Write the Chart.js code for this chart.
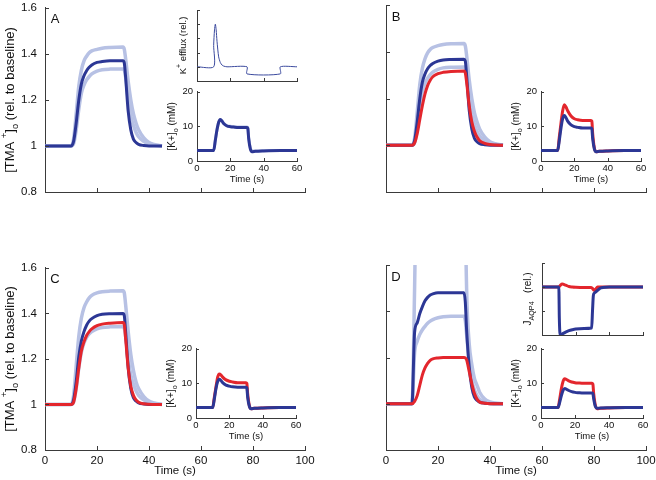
<!DOCTYPE html>
<html>
<head>
<meta charset="utf-8">
<script src="https://cdn.jsdelivr.net/npm/chart.js@4.4.0/dist/chart.umd.min.js"></script>
<style>
    body { margin: 0; background: #fff; width: 656px; height: 480px; overflow: hidden; position: relative; }
    canvas { position: absolute; }
</style>
</head>
<body>
<script>
// ---- main panels: [TMA+]o relative to baseline, time in s
const tMain = [0, 10, 11, 12, 13, 14, 15, 16, 17, 18, 20, 22, 25, 30, 30.5, 31, 32, 33, 34, 35, 36, 38, 40, 42, 45];

const aLightHi = [1, 1, 1.03, 1.14, 1.26, 1.33, 1.37, 1.39, 1.405, 1.413, 1.42, 1.425, 1.428, 1.43, 1.42, 1.38, 1.28, 1.2, 1.14, 1.1, 1.07, 1.035, 1.015, 1.007, 1];
const aLightLo = [1, 1, 1.01, 1.07, 1.16, 1.23, 1.265, 1.287, 1.302, 1.313, 1.325, 1.331, 1.334, 1.335, 1.33, 1.3, 1.2, 1.13, 1.09, 1.06, 1.04, 1.02, 1.008, 1.003, 1];
const aDark = [1, 1, 1.02, 1.1, 1.2, 1.27, 1.305, 1.327, 1.342, 1.352, 1.363, 1.367, 1.37, 1.37, 1.36, 1.3, 1.15, 1.07, 1.03, 1.015, 1.007, 1.002, 1, 1, 1];

const bLightHi = [1, 1, 1.03, 1.14, 1.26, 1.33, 1.37, 1.395, 1.41, 1.418, 1.426, 1.431, 1.434, 1.435, 1.425, 1.385, 1.28, 1.2, 1.14, 1.1, 1.07, 1.035, 1.015, 1.007, 1];
const bLightLo = [1, 1, 1.01, 1.07, 1.16, 1.23, 1.265, 1.287, 1.302, 1.313, 1.325, 1.331, 1.334, 1.335, 1.33, 1.3, 1.2, 1.13, 1.09, 1.06, 1.04, 1.02, 1.008, 1.003, 1];
const bDark = [1, 1, 1.02, 1.1, 1.2, 1.27, 1.305, 1.327, 1.341, 1.35, 1.36, 1.365, 1.367, 1.368, 1.36, 1.3, 1.15, 1.07, 1.03, 1.015, 1.007, 1.002, 1, 1, 1];
const bRed = [1, 1, 1.01, 1.05, 1.11, 1.17, 1.22, 1.255, 1.278, 1.293, 1.306, 1.312, 1.316, 1.318, 1.31, 1.27, 1.17, 1.1, 1.06, 1.035, 1.02, 1.008, 1.003, 1.001, 1];

const cLightHi = [1, 1, 1.04, 1.17, 1.3, 1.38, 1.425, 1.45, 1.468, 1.479, 1.49, 1.495, 1.498, 1.5, 1.49, 1.44, 1.32, 1.22, 1.15, 1.1, 1.07, 1.035, 1.015, 1.007, 1];
const cLightLo = [1, 1, 1.01, 1.07, 1.16, 1.23, 1.27, 1.295, 1.31, 1.32, 1.332, 1.338, 1.341, 1.342, 1.335, 1.3, 1.2, 1.13, 1.09, 1.06, 1.04, 1.02, 1.008, 1.003, 1];
const cDark = [1, 1, 1.02, 1.1, 1.21, 1.28, 1.32, 1.348, 1.366, 1.377, 1.39, 1.396, 1.399, 1.4, 1.39, 1.32, 1.16, 1.07, 1.03, 1.015, 1.007, 1.002, 1, 1, 1];
const cRed = [1, 1, 1.01, 1.07, 1.16, 1.235, 1.275, 1.303, 1.32, 1.332, 1.346, 1.353, 1.357, 1.36, 1.35, 1.29, 1.16, 1.08, 1.04, 1.02, 1.01, 1.003, 1.001, 1, 1];

const dLightHi = [1, 1, 1.5, 2.2, 3, 3, 3, 3, 3, 3, 3, 3, 3, 3, 1.9, 1.5, 1.26, 1.17, 1.11, 1.08, 1.05, 1.02, 1.008, 1.003, 1];
const dLightLo = [1, 1, 1.22, 1.27, 1.3, 1.32, 1.335, 1.348, 1.357, 1.364, 1.372, 1.376, 1.378, 1.378, 1.36, 1.3, 1.18, 1.1, 1.06, 1.035, 1.02, 1.008, 1.003, 1, 1];
const dDark = [1, 1, 1.31, 1.35, 1.39, 1.42, 1.445, 1.46, 1.47, 1.475, 1.48, 1.48, 1.48, 1.48, 1.44, 1.32, 1.16, 1.07, 1.03, 1.015, 1.007, 1.002, 1, 1, 1];
const dRed = [1, 1, 1.01, 1.035, 1.08, 1.125, 1.155, 1.175, 1.188, 1.194, 1.198, 1.2, 1.2, 1.2, 1.198, 1.19, 1.14, 1.087, 1.045, 1.02, 1.008, 1.002, 1, 1, 1];

// ---- insets: [K+]o in mM
const tK = [0, 10, 11, 12, 13, 14, 15, 16, 18, 20, 22, 25, 30, 30.5, 31, 32, 33, 35, 40, 50, 60];
const aKLight = [3, 3, 6, 9, 11.2, 12, 11.6, 10.9, 10.2, 10, 9.9, 9.8, 9.8, 9.5, 6.8, 3.8, 2.9, 2.9, 3, 3, 3];
const aKDark = [3, 3, 6, 9, 11.2, 12, 11.5, 10.8, 10.1, 9.9, 9.8, 9.7, 9.7, 9.4, 6.5, 3.5, 2.7, 2.8, 2.9, 3, 3];
const bKRed = [3, 3, 7, 11, 14.5, 16.2, 15.6, 14.5, 13, 12.2, 11.9, 11.7, 11.7, 11.5, 8, 3.8, 2.7, 2.8, 2.9, 3, 3];
const bKDark = [3, 3, 6, 9.5, 12.2, 13.1, 12.5, 11.5, 10.4, 9.9, 9.7, 9.5, 9.5, 9.3, 6.5, 3.5, 2.7, 2.8, 2.9, 3, 3];
const cKRed = [3, 3, 6, 9, 11.8, 12.7, 12.4, 11.8, 11, 10.6, 10.4, 10.2, 10.2, 10, 7, 3.6, 2.7, 2.8, 2.9, 3, 3];
const cKDark = [3, 3, 5.5, 8.5, 10.5, 11.2, 10.8, 10.2, 9.5, 9.2, 9, 8.9, 8.9, 8.7, 6, 3.4, 2.7, 2.8, 2.9, 3, 3];
const dKRed = [3, 3, 5.5, 8.5, 10.6, 11.3, 11.1, 10.8, 10.4, 10.2, 10.1, 10, 10, 9.8, 7, 3.6, 2.7, 2.8, 2.9, 3, 3];
const dKDark = [3, 3, 4.5, 6.5, 8, 8.5, 8.3, 8, 7.6, 7.4, 7.3, 7.2, 7.2, 7.1, 5.5, 3.3, 2.8, 2.9, 2.95, 3, 3];

// K+ efflux (rel.), panel A
const tEff = [0, 10, 10, 10.5, 11, 11.5, 12, 13, 14, 15, 16, 18, 30, 30, 50, 50, 60];
const effVals = [0.2, 0.2, 0.5, 0.72, 0.8, 0.72, 0.56, 0.34, 0.26, 0.225, 0.21, 0.2, 0.2, 0.1, 0.1, 0.2, 0.2];

// J_AQP4 (rel.), panel D
const tJ = [0, 10, 10.3, 10.8, 12, 14, 16, 18, 20, 25, 29.5, 30, 30.5, 31, 32, 33, 34, 35, 36, 40, 60];
const jBlue = [1, 1, 0.35, 0, 0.02, 0.06, 0.09, 0.11, 0.125, 0.135, 0.145, 0.5, 0.82, 0.87, 0.9, 0.93, 0.96, 0.98, 0.99, 1, 1];
const tJr = [0, 10, 11, 12, 14, 16, 18, 20, 25, 29, 30, 31, 32, 33, 60];
const jRed = [1, 1, 1.04, 1.06, 1.04, 1.01, 1.0, 0.995, 0.99, 0.99, 0.97, 0.93, 0.96, 1.0, 1.0];

const DARK = "#2c3795";
const LIGHT = "#b7c1e4";
const RED = "#e3262d";
const AXIS = "#3a3a3a";
const TXT = "#111";
const FONT = "'Liberation Sans', Arial, sans-serif";

const fmt = v => String(Math.round(v * 100) / 100);
const pts = (xs, ys) => xs.map((x, i) => ({x: x, y: ys[i]}));

// rotated text with sub/superscripts; parts = [[text, 0|1|-1], ...]
function rich(ctx, parts, size, cx, cy, rot) {
    const fs = p => (p[1] ? size * 0.72 : size);
    let w = 0;
    parts.forEach(p => {
        ctx.font = fs(p) + "px " + FONT;
        w += ctx.measureText(p[0]).width;
    });
    ctx.save();
    ctx.translate(cx, cy);
    ctx.rotate(rot);
    ctx.fillStyle = TXT;
    ctx.textAlign = "left";
    ctx.textBaseline = "middle";
    let x = -w / 2;
    parts.forEach(p => {
        ctx.font = fs(p) + "px " + FONT;
        const dy = p[1] === 1 ? -size * 0.42 : (p[1] === -1 ? size * 0.38 : 0);
        ctx.fillText(p[0], x, dy);
        x += ctx.measureText(p[0]).width;
    });
    ctx.restore();
}

const decor = {
    id: "decor",
    afterDraw(chart, args, o) {
        const ctx = chart.ctx;
        const a = chart.chartArea;
        const sx = chart.scales.x, sy = chart.scales.y;
        ctx.save();
        ctx.strokeStyle = AXIS;
        ctx.lineWidth = 1;
        ctx.beginPath();
        sx.ticks.forEach(t => {
            const px = Math.round(sx.getPixelForValue(t.value)) + 0.5;
            ctx.moveTo(px, a.bottom);
            ctx.lineTo(px, a.bottom - o.tick);
        });
        sy.ticks.forEach(t => {
            const py = Math.round(sy.getPixelForValue(t.value)) + 0.5;
            ctx.moveTo(a.left, py);
            ctx.lineTo(a.left + o.tick, py);
        });
        ctx.stroke();
        if (o.letter) {
            ctx.fillStyle = TXT;
            ctx.font = "13px " + FONT;
            ctx.textAlign = "center";
            ctx.textBaseline = "middle";
            ctx.fillText(o.letter, a.left + 10, a.top + 12);
        }
        if (o.xTitle) {
            ctx.fillStyle = TXT;
            ctx.font = o.xTitle.size + "px " + FONT;
            ctx.textAlign = "center";
            ctx.textBaseline = "middle";
            ctx.fillText(o.xTitle.text, (a.left + a.right) / 2, a.bottom + o.xTitle.dy);
        }
        if (o.yTitle) {
            rich(ctx, o.yTitle.parts, o.yTitle.size, a.left + o.yTitle.dx, (a.top + a.bottom) / 2 + (o.yTitle.dyc || 0), -Math.PI / 2);
        }
        ctx.restore();
    }
};

function line(xs, ys, color, width, order, smooth) {
    return {
        data: pts(xs, ys),
        borderColor: color,
        borderWidth: width,
        pointRadius: 0,
        fill: false,
        order: order,
        cubicInterpolationMode: smooth ? "monotone" : "default",
        tension: smooth ? 0 : 0.25
    };
}

function axes(c) {
    const [l, t, w, h] = c.box;
    const [pl, pt, pr, pb] = c.pad;
    const cv = document.createElement("canvas");
    cv.width = w + pl + pr;
    cv.height = h + pt + pb;
    cv.style.left = (l - pl) + "px";
    cv.style.top = (t - pt) + "px";
    cv.style.width = cv.width + "px";
    cv.style.height = cv.height + "px";
    document.body.appendChild(cv);

    const scale = (s, isX) => ({
        type: "linear",
        min: s.min,
        max: s.max,
        ticks: {
            stepSize: s.step,
            display: !!s.labels,
            autoSkip: false,
            maxRotation: 0,
            padding: s.pad || 3,
            color: TXT,
            font: {family: FONT, size: s.size || 11},
            callback: v => fmt(v)
        },
        grid: {display: false, drawTicks: false},
        border: {display: true, color: AXIS, width: 1},
        afterFit: sc => {
            if (isX) sc.height = pb; else sc.width = pl;
        }
    });

    new Chart(cv, {
        type: "line",
        data: {datasets: c.datasets},
        options: {
            responsive: false,
            animation: false,
            devicePixelRatio: 1,
            layout: {padding: {left: 0, top: pt, right: pr, bottom: 0}},
            scales: {x: scale(c.x, true), y: scale(c.y, false)},
            plugins: {legend: {display: false}, tooltip: {enabled: false}, decor: c.deco}
        },
        plugins: [decor]
    });
}

const tmaTitle = {parts: [["[TMA ", 0], ["+", 1], ["]", 0], ["o", -1], [" (rel. to baseline)", 0]], size: 13, dx: -35};
const kTitle = {parts: [["[K+]", 0], ["o", -1], [" (mM)", 0]], size: 10, dx: -25};
const timeMain = {text: "Time (s)", size: 11.5, dy: 21};
const timeInset = {text: "Time (s)", size: 9.5, dy: 18};

const xMain = lab => ({min: 0, max: 100, step: 20, labels: lab, size: 11.5, pad: 4});
const yMain = lab => ({min: 0.8, max: 1.6, step: 0.2, labels: lab, size: 11.5, pad: 8});
const xIns = lab => ({min: 0, max: 60, step: 20, labels: lab, size: 9.5, pad: 2});
const yK = {min: 0, max: 20, step: 10, labels: true, size: 9.5, pad: 4};

// main panels
axes({
    box: [45, 5, 260, 187], pad: [45, 12, 14, 30],
    x: xMain(false), y: yMain(true),
    deco: {tick: 4, letter: "A", yTitle: tmaTitle},
    datasets: [
        line(tMain, aLightHi, LIGHT, 3.5, 4, true),
        line(tMain, aLightLo, LIGHT, 3.5, 3, true),
        line(tMain, aDark, DARK, 3, 2, true)
    ]
});
axes({
    box: [386, 5, 260, 187], pad: [50, 12, 10, 30],
    x: xMain(false), y: yMain(false),
    deco: {tick: 4, letter: "B"},
    datasets: [
        line(tMain, bLightHi, LIGHT, 3.5, 4, true),
        line(tMain, bLightLo, LIGHT, 3.5, 3, true),
        line(tMain, bDark, DARK, 3, 2, true),
        line(tMain, bRed, RED, 3, 1, true)
    ]
});
axes({
    box: [45, 265, 260, 185], pad: [45, 12, 14, 30],
    x: xMain(true), y: yMain(true),
    deco: {tick: 4, letter: "C", yTitle: tmaTitle, xTitle: timeMain},
    datasets: [
        line(tMain, cLightHi, LIGHT, 3.5, 4, true),
        line(tMain, cLightLo, LIGHT, 3.5, 3, true),
        line(tMain, cDark, DARK, 3, 2, true),
        line(tMain, cRed, RED, 3, 1, true)
    ]
});
axes({
    box: [386, 265, 260, 185], pad: [50, 12, 14, 30],
    x: xMain(true), y: yMain(false),
    deco: {tick: 4, letter: "D", xTitle: timeMain},
    datasets: [
        line(tMain, dLightHi, LIGHT, 3.5, 4, true),
        line(tMain, dLightLo, LIGHT, 3.5, 3, true),
        line(tMain, dDark, DARK, 3, 2, true),
        line(tMain, dRed, RED, 3, 1, true)
    ]
});

// insets
axes({
    box: [197, 10, 100, 71], pad: [40, 8, 8, 8],
    x: xIns(false), y: {min: 0, max: 1, step: 0.2},
    deco: {tick: 3, yTitle: {parts: [["K", 0], ["+", 1], [" efflux (rel.)", 0]], size: 9.5, dx: -14}},
    datasets: [line(tEff, effVals, "#3b4a9e", 1, 1, false)]
});
axes({
    box: [197, 90, 100, 71], pad: [40, 8, 8, 30],
    x: xIns(true), y: yK,
    deco: {tick: 3, yTitle: kTitle, xTitle: timeInset},
    datasets: [
        line(tK, aKLight, LIGHT, 3, 2, true),
        line(tK, aKDark, DARK, 3, 1, true)
    ]
});
axes({
    box: [541, 90, 100, 71], pad: [40, 8, 10, 30],
    x: xIns(true), y: yK,
    deco: {tick: 3, yTitle: kTitle, xTitle: timeInset},
    datasets: [
        line(tK, bKRed, RED, 3, 2, true),
        line(tK, bKDark, DARK, 3, 1, true)
    ]
});
axes({
    box: [196, 347, 100, 71], pad: [40, 8, 8, 30],
    x: xIns(true), y: yK,
    deco: {tick: 3, yTitle: kTitle, xTitle: timeInset},
    datasets: [
        line(tK, cKRed, RED, 3, 2, true),
        line(tK, cKDark, DARK, 3, 1, true)
    ]
});
axes({
    box: [542, 263, 101, 72], pad: [40, 8, 10, 8],
    x: xIns(false), y: {min: 0, max: 1.5, step: 0.5},
    deco: {tick: 3, yTitle: {parts: [["J", 0], ["AQP4", -1], ["   (rel.)", 0]], size: 10, dx: -14}},
    datasets: [
        line(tJr, jRed, RED, 3, 2, true),
        line(tJ, jBlue, DARK, 3, 1, true)
    ]
});
axes({
    box: [541, 347, 102, 71], pad: [40, 8, 10, 30],
    x: xIns(true), y: yK,
    deco: {tick: 3, yTitle: kTitle, xTitle: timeInset},
    datasets: [
        line(tK, dKRed, RED, 3, 2, true),
        line(tK, dKDark, DARK, 3, 1, true)
    ]
});
</script>
</body>
</html>
